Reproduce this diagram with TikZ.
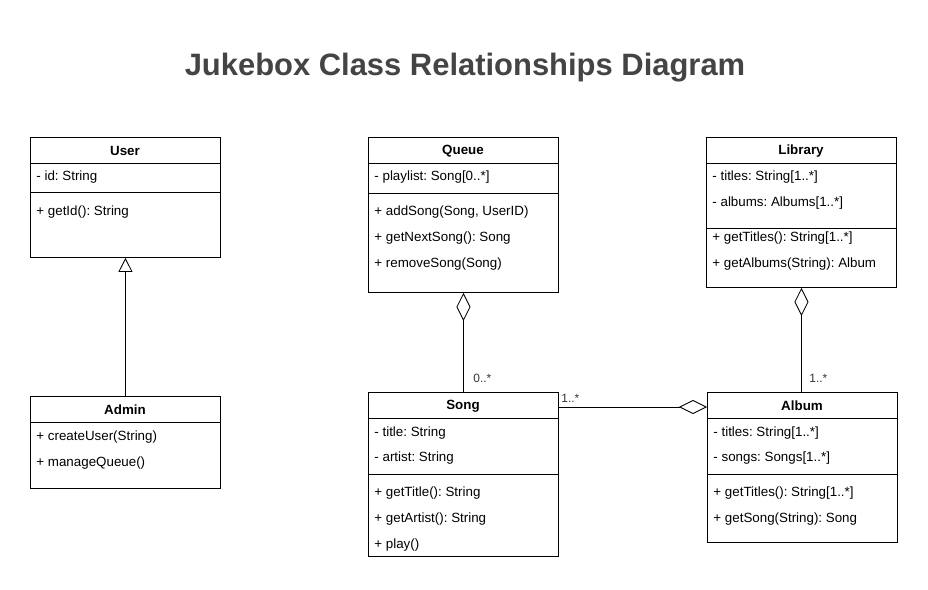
\documentclass[tikz,border=0pt]{standalone}
\usepackage{fontspec}
\setmainfont{Liberation Sans}
\usetikzlibrary{arrows.meta}
\definecolor{titlegray}{HTML}{444444}
\frenchspacing
\tikzset{
  classbox/.style={draw, anchor=north west, minimum width=4.75cm, inner sep=0pt},
  head/.style={inner sep=0pt, yshift=-0.7pt, font=\fontsize{9.5}{11}\selectfont\bfseries},
  member/.style={anchor=west, inner sep=0pt, yshift=-1pt, font=\fontsize{9.5}{11}\selectfont},
  mult/.style={anchor=west, inner sep=0pt, font=\fontsize{8.5}{10}\selectfont, text=black!80},
  inherit/.style={-{Triangle[open,length=10pt,width=10pt]}},
  aggr/.style={{Diamond[open,length=20pt,width=10pt]}-},
}

\begin{document}
\begin{tikzpicture}[x=0.025cm, y=-0.025cm, line width=0.6pt]
  \useasboundingbox (0,0) rectangle (928,590);

  \node[anchor=base, text=titlegray, font=\fontsize{22}{26}\selectfont\bfseries] (title)
    at (465, 76) {Jukebox Class Relationships Diagram};

  % User
  \node[classbox, minimum height=3cm] (user) at (30, 137) {};
  \node[head] (user-t) at (125, 150) {User};
  \draw (user.west |- 0,163) -- (user.east |- 0,163);
  \draw (user.west |- 0,192) -- (user.east |- 0,192);
  \node[member] (user176) at (36, 176) {- id: String};
  \node[member] (user211) at (36, 211) {+ getId(): String};

  % Admin
  \node[classbox, minimum height=2.3cm] (admin) at (30, 396) {};
  \node[head] (admin-t) at (125, 409) {Admin};
  \draw (admin.west |- 0,422) -- (admin.east |- 0,422);
  \foreach \y/\txt in {436/{+ createUser(String)}, 462/{+ manageQueue()}} {
    \node[member] (admin\y) at (36, \y) {\txt};
  }

  % Queue
  \node[classbox, minimum height=3.875cm] (queue) at (368, 137) {};
  \node[head] (queue-t) at (463, 150) {Queue};
  \draw (queue.west |- 0,163) -- (queue.east |- 0,163);
  \draw (queue.west |- 0,193) -- (queue.east |- 0,193);
  \node[member] (queue176) at (374, 176) {- playlist: Song[0..*]};
  \foreach \y/\txt in {211/{+ addSong(Song, UserID)}, 237/{+ getNextSong(): Song},
      263/{+ removeSong(Song)}} {
    \node[member] (queue\y) at (374, \y) {\txt};
  }

  % Library
  \node[classbox, minimum height=3.75cm] (library) at (706, 137) {};
  \node[head] (library-t) at (801, 150) {Library};
  \draw (library.west |- 0,163) -- (library.east |- 0,163);
  \draw (library.west |- 0,228) -- (library.east |- 0,228);
  \foreach \y/\txt in {176/{- titles: String[1..*]}, 202/{- albums: Albums[1..*]},
      237/{+ getTitles(): String[1..*]}, 263/{+ getAlbums(String): Album}} {
    \node[member] (library\y) at (712, \y) {\txt};
  }

  % Song
  \node[classbox, minimum height=4.1cm] (song) at (368, 392) {};
  \node[head] (song-t) at (463, 405) {Song};
  \draw (song.west |- 0,418) -- (song.east |- 0,418);
  \draw (song.west |- 0,474) -- (song.east |- 0,474);
  \foreach \y/\txt in {432/{- title: String}, 457/{- artist: String},
      492/{+ getTitle(): String}, 518/{+ getArtist(): String}, 544/{+ play()}} {
    \node[member] (song\y) at (374, \y) {\txt};
  }

  % Album
  \node[classbox, minimum height=3.75cm] (album) at (707, 392) {};
  \node[head] (album-t) at (802, 405) {Album};
  \draw (album.west |- 0,418) -- (album.east |- 0,418);
  \draw (album.west |- 0,474) -- (album.east |- 0,474);
  \foreach \y/\txt in {432/{- titles: String[1..*]}, 457/{- songs: Songs[1..*]},
      492/{+ getTitles(): String[1..*]}, 518/{+ getSong(String): Song}} {
    \node[member] (album\y) at (713, \y) {\txt};
  }

  % relations
  \draw[inherit] (admin.north) -- (user.south);
  \draw[aggr] (queue.south) -- (song.north);
  \draw[aggr] (library.south) -- (library.south |- album.north);
  \draw[aggr] (album.west |- 0,407) -- (song.east |- 0,407);

  \node[mult] (m1) at (473, 378) {0..*};
  \node[mult] (m2) at (561, 398) {1..*};
  \node[mult] (m3) at (809, 378) {1..*};
\end{tikzpicture}
\end{document}
